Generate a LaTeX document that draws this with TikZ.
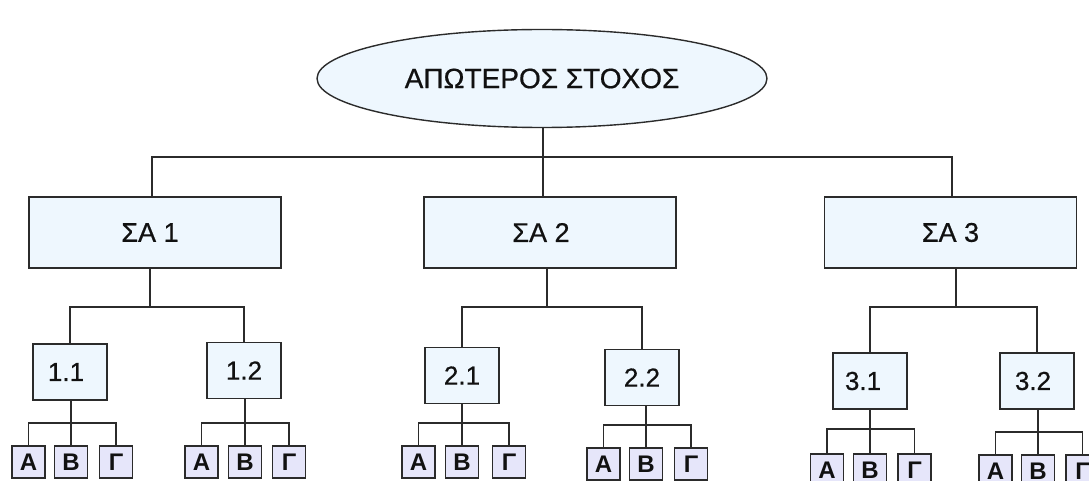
\documentclass[tikz,border=0pt]{standalone}
\usepackage{fontspec}
\setmainfont{Liberation Sans}
\newfontfamily\labelfont[FakeBold=0.6]{Liberation Sans}
\usetikzlibrary{shapes.geometric}

\definecolor{wirecol}{HTML}{2B2B2B}
\definecolor{paleblue}{HTML}{EEF7FE}
\definecolor{lavend}{HTML}{E6E6FA}
\definecolor{inkcol}{HTML}{111111}

\tikzset{
  wire/.style={draw=wirecol, line width=1.6pt},
  goalshape/.style={ellipse, draw=wirecol, line width=1.4pt, fill=paleblue,
    minimum width=450pt, minimum height=98pt, inner sep=0pt, text=inkcol,
    font=\labelfont\fontsize{28}{30}\selectfont},
  areabox/.style={rectangle, draw=wirecol, line width=1.6pt, fill=paleblue,
    minimum width=252pt, minimum height=71pt, inner sep=0pt, text=inkcol,
    font=\labelfont\fontsize{27}{30}\selectfont},
  subbox/.style={rectangle, draw=wirecol, line width=1.6pt, fill=paleblue,
    minimum width=74pt, minimum height=56pt, inner sep=0pt, text=inkcol,
    font=\labelfont\fontsize{26}{28}\selectfont},
  leafbox/.style={rectangle, draw=wirecol, line width=1.6pt, fill=lavend,
    minimum width=33pt, minimum height=32pt, inner sep=0pt, text=inkcol,
    font=\bfseries\fontsize{24}{24}\selectfont},
}

% three lettered boxes hanging from one parent box
% #1 parent, #2 prefix, #3-#5 x of the boxes, #6 top y, #7 bus y
\newcommand\leafrow[7]{%
  \node[leafbox, anchor=north] (#2a) at (#3,#6) {Α};
  \node[leafbox, anchor=north] (#2b) at (#4,#6) {Β};
  \node[leafbox, anchor=north] (#2c) at (#5,#6) {Γ};
  \coordinate (#2j) at (#4,#7);
  \draw[wire] (#1.south -| #2j) -- (#2j);
  \draw[wire] (#2a.north) |- (#2j) -| (#2c.north);
  \draw[wire] (#2j) -- (#2b.north);
}

\begin{document}
\begin{tikzpicture}[x=1pt, y=-1pt]
  \useasboundingbox (0,0) rectangle (1089,481);
  \clip (0,0) rectangle (1089,481);

  % top goal
  \node[goalshape] (goal) at (542,78.5) {ΑΠΩΤΕΡΟΣ ΣΤΟΧΟΣ};

  % strategic areas
  \node[areabox] (sa1) at (155,232.5) {\hspace*{-10pt}ΣΑ 1};
  \node[areabox] (sa2) at (550,232.5) {\hspace*{-18pt}ΣΑ 2};
  \node[areabox] (sa3) at (950.5,232.5) {ΣΑ 3};

  \coordinate (d1) at (152,157);
  \coordinate (d2) at (543,157);
  \coordinate (d3) at (952,157);
  \draw[wire] (d1 |- sa1.north) -- (d1) -- (d3) -- (d3 |- sa3.north);
  \draw[wire] (d2 |- goal.south) -- (d2) -- (d2 |- sa2.north);

  % sub-areas
  \node[subbox] (m11) at (70,372) {\hspace*{-8pt}1.1};
  \node[subbox] (m12) at (244,370.5) {1.2};
  \node[subbox] (m21) at (462,375.5) {2.1};
  \node[subbox] (m22) at (642,377.5) {2.2};
  \node[subbox] (m31) at (870,381) {\hspace*{-14pt}3.1};
  \node[subbox] (m32) at (1037,381) {\hspace*{-8pt}3.2};

  \coordinate (j1) at (150,307);
  \coordinate (j2) at (547,307);
  \coordinate (j3) at (956,307);
  \draw[wire] (sa1.south -| j1) -- (j1);
  \draw[wire] (m11.north) |- (j1) -| (m12.north);
  \draw[wire] (sa2.south -| j2) -- (j2);
  \draw[wire] (m21.north) |- (j2) -| (m22.north);
  \draw[wire] (sa3.south -| j3) -- (j3);
  \draw[wire] (m31.north) |- (j3) -| (m32.north);

  % lettered leaves
  \leafrow{m11}{l11}{28.5}{71}{116}{445}{423}
  \leafrow{m12}{l12}{201.5}{245}{289}{445}{423}
  \leafrow{m21}{l21}{418.5}{462}{509}{445}{423}
  \leafrow{m22}{l22}{603.5}{646}{691}{447}{425}
  \leafrow{m31}{l31}{827}{870}{914.5}{453}{429}
  \leafrow{m32}{l32}{995.5}{1038}{1082.5}{454}{432}
\end{tikzpicture}
\end{document}
